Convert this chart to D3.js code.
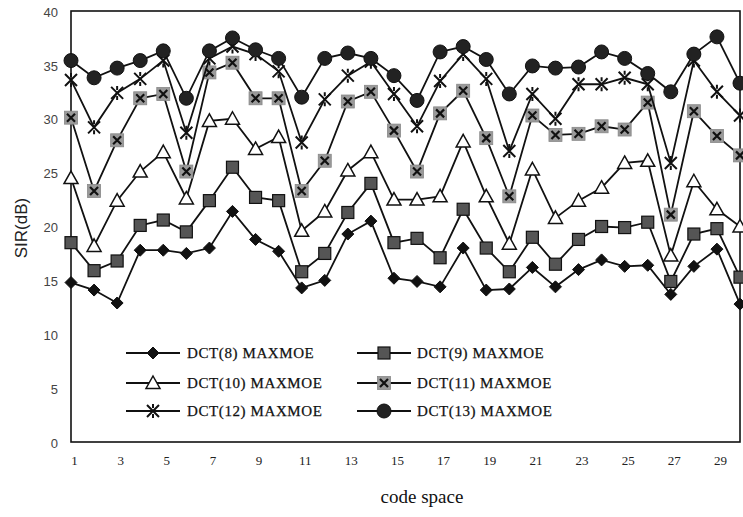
<!DOCTYPE html>
<html>
<head>
<meta charset="utf-8">
<script src="https://cdn.jsdelivr.net/npm/d3@7"></script>
<style>
  html, body { margin: 0; padding: 0; background: #fff; }
  svg { display: block; }
</style>
</head>
<body>
<svg id="chart" width="743" height="517"></svg>
<script>
// ---- data ----
const codeSpace = d3.range(1, 31);
const xTickValues = [1, 3, 5, 7, 9, 11, 13, 15, 17, 19, 21, 23, 25, 27, 29];
const yTickValues = [0, 5, 10, 15, 20, 25, 30, 35, 40];
const seriesNames = ["DCT(8) MAXMOE", "DCT(9) MAXMOE", "DCT(10) MAXMOE", "DCT(11) MAXMOE", "DCT(12) MAXMOE", "DCT(13) MAXMOE"];
const dct8  = [14.8,14.1,12.9,17.8,17.8,17.5,18.0,21.4,18.8,17.7,14.3,15.0,19.3,20.5,15.2,14.9,14.4,18.0,14.1,14.2,16.2,14.4,16.0,16.9,16.3,16.4,13.7,16.3,17.9,12.8];
const dct9  = [18.5,15.9,16.8,20.1,20.6,19.5,22.4,25.5,22.7,22.4,15.8,17.5,21.3,24.0,18.5,18.9,17.1,21.6,18.0,15.8,19.0,16.5,18.8,20.0,19.9,20.4,14.9,19.3,19.8,15.3];
const dct10 = [24.5,18.2,22.4,25.1,26.9,22.6,29.8,30.0,27.2,28.3,19.6,21.4,25.2,26.9,22.5,22.5,22.8,27.9,22.8,18.4,25.3,20.8,22.4,23.6,25.9,26.1,17.3,24.2,21.6,20.0];
const dct11 = [30.1,23.3,28.0,31.9,32.3,25.1,34.3,35.2,31.9,31.9,23.3,26.1,31.6,32.5,28.9,25.1,30.5,32.6,28.2,22.8,30.3,28.5,28.6,29.3,29.0,31.5,21.1,30.7,28.4,26.6];
const dct12 = [33.6,29.2,32.4,33.7,35.4,28.7,35.6,36.7,36.0,34.4,27.8,31.8,34.0,35.3,32.3,29.3,33.5,36.0,33.7,27.0,32.3,30.0,33.2,33.2,33.8,33.2,25.9,35.4,32.5,30.3];
const dct13 = [35.4,33.8,34.7,35.4,36.3,31.9,36.3,37.5,36.4,35.6,32.0,35.6,36.1,35.6,34.0,31.7,36.2,36.7,35.5,32.3,34.9,34.7,34.8,36.2,35.6,34.2,32.5,36.0,37.6,33.3];

const seriesValues = [dct8, dct9, dct10, dct11, dct12, dct13];
const markerKinds = ["diamond", "square", "triangle", "xsquare", "asterisk", "circle"];

// ---- layout ----
const svg = d3.select("#chart");
const plotLeft = 71, plotRight = 740, plotTop = 11, plotBottom = 442;
const x = d3.scaleLinear().domain([1, 30]).range([plotLeft, plotRight]);
const y = d3.scaleLinear().domain([0, 40]).range([plotBottom, plotTop]);

// frame
svg.append("rect")
  .attr("x", plotLeft).attr("y", plotTop)
  .attr("width", plotRight - plotLeft).attr("height", plotBottom - plotTop)
  .attr("fill", "none").attr("stroke", "#111").attr("stroke-width", 1.6);

// y axis
const yAxis = d3.axisLeft(y).tickValues(yTickValues).tickSize(0).tickPadding(13);
const gy = svg.append("g").attr("transform", `translate(${plotLeft},0)`).call(yAxis);
gy.select(".domain").remove();
gy.selectAll("text")
  .attr("font-family", "Liberation Sans, Arial, sans-serif")
  .attr("font-size", 13).attr("fill", "#444")
  .attr("dy", "0.4em");

// x axis
const xAxis = d3.axisBottom(x).tickValues(xTickValues).tickSize(0).tickPadding(4);
const gx = svg.append("g").attr("transform", `translate(3,${plotBottom})`).call(xAxis);
gx.select(".domain").remove();
gx.selectAll("text")
  .attr("font-family", "Liberation Serif, Times New Roman, serif")
  .attr("font-size", 13).attr("fill", "#222")
  .attr("y", 4).attr("dy", "1.45em");

// axis titles
svg.append("text")
  .attr("transform", "translate(27,228) rotate(-90)")
  .attr("text-anchor", "middle")
  .attr("font-family", "Liberation Sans, Arial, sans-serif")
  .attr("font-size", 17).attr("fill", "#222")
  .text("SIR(dB)");
svg.append("text")
  .attr("x", 422).attr("y", 503)
  .attr("text-anchor", "middle")
  .attr("font-family", "Liberation Serif, Times New Roman, serif")
  .attr("font-size", 19).attr("fill", "#111")
  .text("code space");

// ---- markers ----
function drawMarker(g, kind) {
  if (kind === "diamond") {
    g.append("path").attr("d", "M0,-6L6,0L0,6L-6,0Z").attr("fill", "#111").attr("stroke", "#111");
  } else if (kind === "square") {
    g.append("rect").attr("x", -6).attr("y", -6).attr("width", 12).attr("height", 12)
      .attr("fill", "#555").attr("stroke", "#111").attr("stroke-width", 1.2);
  } else if (kind === "triangle") {
    g.append("path").attr("d", "M0,-7L7,5.5L-7,5.5Z").attr("fill", "#fff").attr("stroke", "#111").attr("stroke-width", 1.5);
  } else if (kind === "xsquare") {
    g.append("rect").attr("x", -6.5).attr("y", -6.5).attr("width", 13).attr("height", 13)
      .attr("fill", "#9a9a9a").attr("stroke", "#888").attr("stroke-width", 0.8);
    g.append("path").attr("d", "M-4,-4L4,4M4,-4L-4,4").attr("stroke", "#111").attr("stroke-width", 2.2);
  } else if (kind === "asterisk") {
    g.append("path").attr("d", "M-6,-6L6,6M6,-6L-6,6M0,-7L0,-3M0,3L0,7").attr("stroke", "#111").attr("stroke-width", 2);
  } else if (kind === "circle") {
    g.append("circle").attr("r", 7).attr("fill", "#222").attr("stroke", "#111").attr("stroke-width", 1);
  }
}

const line = d3.line().x((d, i) => x(codeSpace[i])).y(d => y(d));

seriesValues.forEach((vals, si) => {
  const g = svg.append("g");
  g.append("path").datum(vals)
    .attr("d", line)
    .attr("fill", "none").attr("stroke", "#111").attr("stroke-width", 1.8);
  g.selectAll("g.pt").data(vals).enter().append("g")
    .attr("class", "pt")
    .attr("transform", (d, i) => `translate(${x(codeSpace[i])},${y(d)})`)
    .each(function () { drawMarker(d3.select(this), markerKinds[si]); });
});

// ---- legend ----
const legendRows = [353, 383, 411];
const legendCols = [{ lx0: 126, lx1: 180, tx: 187 }, { lx0: 357, lx1: 411, tx: 417 }];
seriesNames.forEach((name, i) => {
  const col = legendCols[i % 2];
  const ry = legendRows[Math.floor(i / 2)];
  const g = svg.append("g");
  g.append("line").attr("x1", col.lx0).attr("x2", col.lx1).attr("y1", ry).attr("y2", ry)
    .attr("stroke", "#111").attr("stroke-width", 1.8);
  const m = g.append("g").attr("transform", `translate(${(col.lx0 + col.lx1) / 2},${ry})`);
  drawMarker(m, markerKinds[i]);
  g.append("text").attr("x", col.tx).attr("y", ry).attr("dy", "0.36em")
    .attr("font-family", "Liberation Serif, Times New Roman, serif")
    .attr("font-size", 15).attr("letter-spacing", 0.6).attr("fill", "#111")
    .attr("stroke", "#111").attr("stroke-width", 0.25)
    .text(name);
});
</script>
</body>
</html>
